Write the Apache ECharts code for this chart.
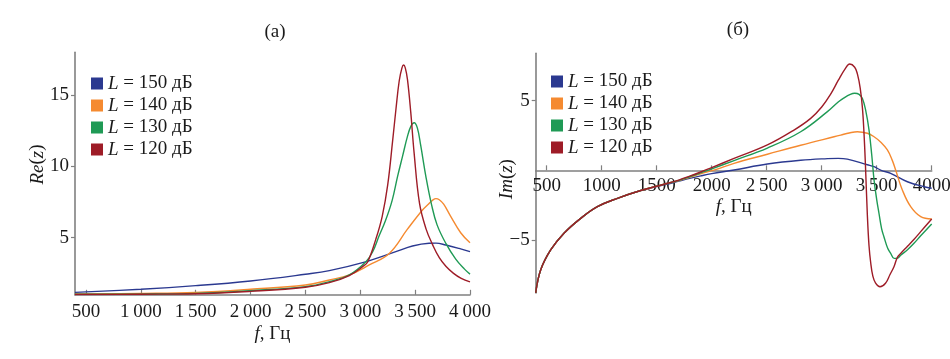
<!DOCTYPE html>
<html><head><meta charset="utf-8">
<script src="https://cdn.jsdelivr.net/npm/echarts@6/dist/echarts.min.js"></script>
<style>html,body{margin:0;padding:0;background:#fff}#c{width:950px;height:359px}</style>
</head><body><div id="c"></div>
<script>
// ---------- data ----------
const seriesNames = ['L = 150 дБ', 'L = 140 дБ', 'L = 130 дБ', 'L = 120 дБ'];
const panelTitles = ['(а)', '(б)'];
const xTicks = [500, 1000, 1500, 2000, 2500, 3000, 3500, 4000];
const xTickLabelsA = ['500', '1\u2009000', '1\u2009500', '2\u2009000', '2\u2009500', '3\u2009000', '3\u2009500', '4\u2009000'];
const xTickLabelsB = ['500', '1000', '1500', '2000', '2\u2009500', '3\u2009000', '3\u2009500', '4000'];
const yTicksRe = [5, 10, 15];
const yTicksIm = [-5, 5];

// Re(z)
const re150F = [400, 1000, 1500, 2000, 2500, 2718, 3021, 3324, 3476, 3627, 3690, 3779, 3900, 4000];
const re150V = [1.17, 1.39, 1.64, 1.97, 2.44, 2.69, 3.25, 4.02, 4.42, 4.61, 4.62, 4.49, 4.25, 4.02];
const re140F = [400, 1000, 1500, 2000, 2500, 2718, 2900, 3082, 3264, 3430, 3567, 3620, 3658, 3690, 3720, 3760, 3820, 3915, 4000];
const re140V = [1.06, 1.10, 1.17, 1.39, 1.69, 2.04, 2.39, 3.09, 3.90, 5.60, 6.94, 7.35, 7.62, 7.74, 7.66, 7.35, 6.55, 5.35, 4.65];
const re130F = [400, 1000, 1500, 2000, 2500, 2718, 2900, 3052, 3112, 3170, 3230, 3290, 3340, 3385, 3430, 3461, 3491, 3520, 3550, 3600, 3650, 3700, 3780, 3870, 3950, 4000];
const re130V = [1.04, 1.05, 1.10, 1.29, 1.57, 1.92, 2.39, 3.32, 4.00, 5.10, 6.20, 7.60, 9.30, 10.70, 12.10, 12.80, 13.06, 12.70, 11.50, 9.20, 7.30, 5.90, 4.60, 3.50, 2.80, 2.45];
const re120F = [400, 1000, 1500, 2000, 2500, 2718, 2900, 3021, 3067, 3142, 3200, 3250, 3295, 3325, 3355, 3380, 3395, 3410, 3430, 3460, 3490, 3540, 3600, 3660, 3720, 3780, 3850, 3920, 4000];
const re120V = [1.02, 1.04, 1.07, 1.24, 1.53, 1.85, 2.35, 2.97, 3.30, 4.90, 6.50, 8.70, 11.80, 14.00, 16.00, 16.90, 17.10, 16.90, 16.10, 13.80, 11.00, 7.40, 5.60, 4.50, 3.60, 3.00, 2.50, 2.15, 1.90];

// Im(z)
const im150F = [400, 445, 536, 657, 809, 961, 1143, 1355, 1567, 1700, 1800, 1900, 2000, 2203, 2506, 2809, 3052, 3150, 3233, 3415, 3476, 3540, 3627, 3779, 3930, 4000];
const im150V = [-8.80, -7.16, -5.72, -4.52, -3.45, -2.61, -2.01, -1.45, -1.05, -0.78, -0.58, -0.40, -0.24, 0.02, 0.45, 0.72, 0.84, 0.86, 0.80, 0.40, 0.26, 0.00, -0.22, -0.82, -1.18, -1.29];
const im140F = [400, 445, 536, 657, 809, 961, 1143, 1355, 1567, 1700, 1800, 1900, 2036, 2203, 2506, 2809, 3112, 3173, 3250, 3324, 3415, 3476, 3540, 3597, 3640, 3673, 3733, 3809, 3900, 4000];
const im140V = [-8.80, -7.16, -5.72, -4.52, -3.45, -2.61, -2.01, -1.45, -1.00, -0.74, -0.50, -0.25, 0.05, 0.50, 1.15, 1.80, 2.41, 2.53, 2.68, 2.77, 2.66, 2.41, 2.00, 1.46, 0.75, 0.00, -1.41, -2.61, -3.33, -3.50];
const im130F = [400, 445, 536, 657, 809, 961, 1143, 1355, 1567, 1700, 1800, 1900, 2000, 2203, 2506, 2809, 3052, 3150, 3203, 3260, 3300, 3340, 3370, 3400, 3430, 3455, 3476, 3500, 3521, 3545, 3567, 3600, 3627, 3658, 3690, 3718, 3780, 3839, 3900, 4000];
const im130V = [-8.80, -7.16, -5.72, -4.52, -3.45, -2.61, -2.01, -1.45, -1.00, -0.72, -0.46, -0.18, 0.10, 0.70, 1.60, 2.77, 4.21, 4.90, 5.20, 5.45, 5.53, 5.45, 5.15, 4.30, 2.90, 1.10, -0.70, -2.10, -3.10, -4.20, -4.80, -5.60, -5.96, -6.32, -6.30, -6.10, -5.70, -5.24, -4.70, -3.85];
const im120F = [400, 445, 536, 657, 809, 961, 1143, 1355, 1567, 1700, 1800, 1900, 2000, 2203, 2506, 2748, 2900, 3000, 3080, 3150, 3210, 3255, 3300, 3325, 3350, 3370, 3385, 3398, 3415, 3430, 3445, 3465, 3490, 3530, 3580, 3620, 3658, 3688, 3720, 3780, 3840, 3900, 4000];
const im120V = [-8.80, -7.16, -5.72, -4.52, -3.45, -2.61, -2.01, -1.45, -1.00, -0.70, -0.42, -0.12, 0.20, 0.85, 1.82, 2.89, 3.73, 4.55, 5.45, 6.45, 7.25, 7.63, 7.40, 6.90, 5.90, 4.50, 2.60, 0.30, -3.20, -5.40, -6.60, -7.60, -8.10, -8.36, -8.11, -7.50, -6.90, -6.25, -5.95, -5.45, -4.95, -4.40, -3.50];

// ---------- styling ----------
const colors = ['#2b3990', '#f58a30', '#1f9a55', '#9e1c27'];
const FONT = 'Liberation Serif';
const FS = 19;
const TXT = '#1a1a1a';
const AXC = '#808080';
const italicRich = { i: { fontStyle: 'italic', fontFamily: FONT, fontSize: FS, color: TXT } };

function zip(f, v) { return f.map((x, k) => [x, v[k]]); }
const reData = [zip(re150F, re150V), zip(re140F, re140V), zip(re130F, re130V), zip(re120F, re120V)];
const imData = [zip(im150F, im150V), zip(im140F, im140V), zip(im130F, im130V), zip(im120F, im120V)];

// right panel geometry (zero line position within grid)
const gridB = { left: 535.7, top: 53.3, width: 396, height: 239.6 };
const imMin = -8.8, imMax = 8.4;
const zeroOffset = -gridB.height * (0 - imMin) / (imMax - imMin);

function legendFor(left, top) {
  return {
    data: seriesNames, orient: 'vertical', left: left, top: top,
    icon: 'rect', itemWidth: 12, itemHeight: 12, itemGap: 3,
    padding: 0,
    formatter: n => '{i|L}' + n.slice(1),
    textStyle: { fontFamily: FONT, fontSize: FS, color: TXT, lineHeight: 19, rich: italicRich }
  };
}
function xAxisFor(idx, labels, margin, nameGap, offset) {
  return {
    type: 'value', gridIndex: idx, min: 400, max: 4000, position: 'bottom', offset: offset,
    name: '{i|f}, Гц', nameLocation: 'middle', nameGap: nameGap, nameMoveOverlap: false,
    nameTextStyle: { fontFamily: FONT, fontSize: FS, color: TXT, rich: italicRich },
    axisLine: { show: true, onZero: false, lineStyle: { color: AXC, width: 1.6 } },
    axisTick: { show: true, inside: true, length: 5, customValues: xTicks, lineStyle: { color: AXC, width: 1.2 } },
    axisLabel: { customValues: xTicks, margin: margin, fontFamily: FONT, fontSize: FS, color: TXT,
      formatter: v => labels[xTicks.indexOf(v)] },
    splitLine: { show: false }
  };
}
function yAxisFor(idx, min, max, ticks, name, nameGap, pad) {
  return {
    type: 'value', gridIndex: idx, min: min, max: max,
    name: name, nameLocation: 'middle', nameGap: nameGap, nameRotate: 90, nameMoveOverlap: false,
    nameTextStyle: { fontFamily: FONT, fontSize: FS, color: TXT, rich: italicRich, padding: pad },
    axisLine: { show: true, onZero: false, lineStyle: { color: AXC, width: 1.6 } },
    axisTick: { show: true, inside: false, length: 4, customValues: ticks, lineStyle: { color: AXC, width: 1.2 } },
    axisLabel: { customValues: ticks, margin: 6, fontFamily: FONT, fontSize: FS, color: TXT,
      formatter: v => v < 0 ? '\u2212' + Math.abs(v) : String(v) },
    splitLine: { show: false }
  };
}
function lineSeries(name, data, k, idx) {
  return {
    type: 'line', name: name, data: data, xAxisIndex: idx, yAxisIndex: idx,
    showSymbol: false, smooth: 0.4,
    lineStyle: { color: colors[k], width: 1.4 }, itemStyle: { color: colors[k] },
    clip: true
  };
}

const series = [];
seriesNames.forEach((n, k) => series.push(lineSeries(n, reData[k], k, 0)));
seriesNames.forEach((n, k) => series.push(lineSeries(n, imData[k], k, 1)));

const chart = echarts.init(document.getElementById('c'), null, { renderer: 'canvas' });
chart.setOption({
  animation: false,
  backgroundColor: '#ffffff',
  color: colors,
  title: [
    { text: panelTitles[0], left: 270, top: 18, textAlign: 'center', textStyle: { fontFamily: FONT, fontSize: FS, fontWeight: 'normal', color: TXT } },
    { text: panelTitles[1], left: 733, top: 16, textAlign: 'center', textStyle: { fontFamily: FONT, fontSize: FS, fontWeight: 'normal', color: TXT } }
  ],
  legend: [legendFor(91, 74), legendFor(551, 72)],
  grid: [
    { left: 75, top: 52.2, width: 395, height: 242.6, outerBoundsMode: 'none', containLabel: false },
    Object.assign({ outerBoundsMode: 'none', containLabel: false }, gridB)
  ],
  xAxis: [xAxisFor(0, xTickLabelsA, 8, 30, 0), xAxisFor(1, xTickLabelsB, 6, 27, zeroOffset)],
  yAxis: [
    yAxisFor(0, 1, 18, yTicksRe, '{i|Re}({i|z})', 28, [0, 0, 0, 18]),
    yAxisFor(1, imMin, imMax, yTicksIm, '{i|Im}({i|z})', 19, [0, 12, 0, 0])
  ],
  series: series
});
</script>
</body></html>
